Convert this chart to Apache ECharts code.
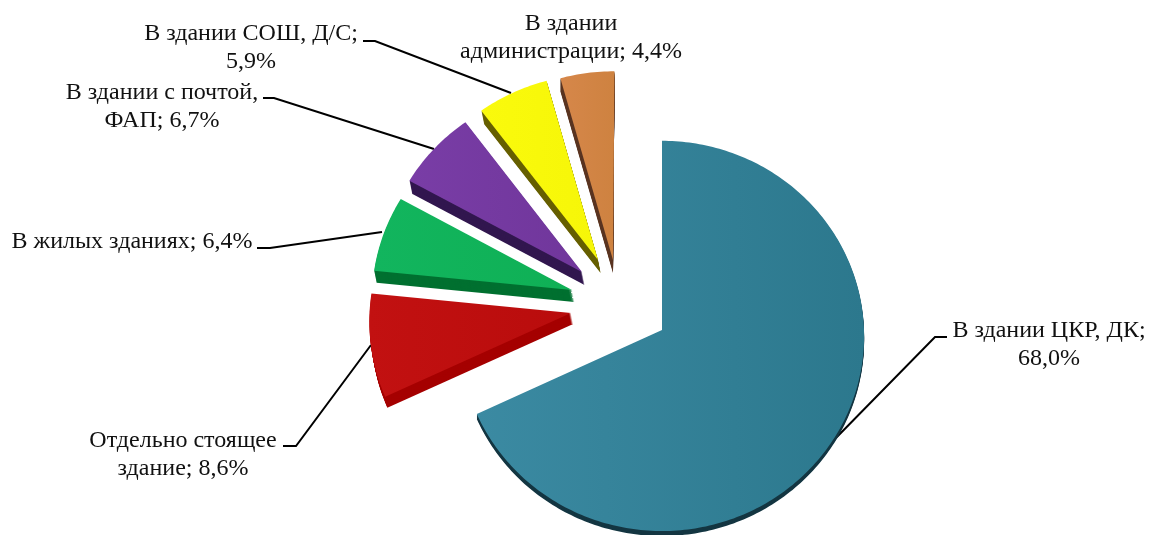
<!DOCTYPE html>
<html>
<head>
<meta charset="utf-8">
<style>
  html, body { margin: 0; padding: 0; background: #fff; }
  #chart { width: 1149px; height: 535px; }
</style>
<script src="https://cdn.jsdelivr.net/npm/echarts@6/dist/echarts.min.js"></script>
</head>
<body>
<div id="chart"></div>
<script>
const categories = ['В здании ЦКР, ДК', 'Отдельно стоящее\nздание', 'В жилых зданиях', 'В здании с почтой,\nФАП', 'В здании СОШ, Д/С', 'В здании\nадминистрации'];
const values = [68.0, 8.6, 6.4, 6.7, 5.9, 4.4];
const valueSeparators = ['\n', ' ', ' ', ' ', '\n', ' '];
const topColors = [['#3B8AA2', '#2C788D'], ['#C21111', '#B90C0C'], ['#12B55E', '#0FB055'], ['#793DA6', '#70369B'], ['#FAFA0C', '#F6F608'], ['#D6874A', '#CE8240']];
const sideColors = ['#143642', '#A50000', '#007030', '#32174F', '#665F00', '#5A3520'];
// where each slice's tip lands on screen (explode offsets)
const tips = [[662, 330], [571, 313], [572, 290], [582, 272], [598, 260], [613, 260]];
const radii = [202, 202, 201, 203, 203, 206];
const depths = [5, 11, 12, 13, 13, 13];
const sideShifts = [0, 0.2, 0.2, 0.2, 0.2, 0];
const labelPositions = [[1049, 345], [183, 455], [132, 242], [162, 107], [251, 48], [571, 38]];
const leaderLines = [
  [[947, 337], [935, 337], [830, 444]],
  [[283, 446], [296, 446], [371, 345]],
  [[257, 248], [270, 248], [382, 232]],
  [[263, 98], [274, 98], [434, 149]],
  [[363, 41], [375, 41], [511, 93]],
  null
];

const ORIGIN = [662, 330];
const SQUASH = 0.965;
const PERSP = 0.00015;

// pie lies on a tilted plane: the near side is drawn a bit bigger than the far side
const project = (x, y) => {
  const w = 1 / (1 - PERSP * y);
  return [ORIGIN[0] + x * w, ORIGIN[1] + y * SQUASH * w];
};
const unproject = (sx, sy) => {
  const Y = sy - ORIGIN[1];
  const y = Y / (SQUASH + PERSP * Y);
  return [(sx - ORIGIN[0]) * (1 - PERSP * y), y];
};

const total = values.reduce((a, b) => a + b, 0);

const slicePoints = (index, value) => {
  const before = values.slice(0, index).reduce((a, b) => a + b, 0);
  const start = before / total * 360;
  const sweep = value / total * 360;
  const apex = unproject(tips[index][0], tips[index][1]);
  const points = [tips[index]];
  const steps = Math.ceil(sweep);
  for (let i = 0; i <= steps; i++) {
    const t = (start + sweep * i / steps) * Math.PI / 180;
    points.push(project(apex[0] + radii[index] * Math.sin(t), apex[1] - radii[index] * Math.cos(t)));
  }
  return points;
};

const renderItem = (params, api) => {
  const i = params.dataIndex;
  const points = slicePoints(i, api.value(1));
  const children = [];
  if (leaderLines[i]) {
    children.push({
      type: 'polyline',
      shape: { points: leaderLines[i] },
      style: { stroke: '#000', lineWidth: 2, fill: null }
    });
  }
  // side wall: stacked copies below the top face
  for (let k = depths[i]; k > 0; k--) {
    children.push({
      type: 'polygon',
      x: k * sideShifts[i],
      y: k,
      shape: { points },
      style: { fill: sideColors[i] }
    });
  }
  children.push({
    type: 'polygon',
    shape: { points },
    style: {
      fill: {
        type: 'linear', x: 0, y: 0, x2: 1, y2: 0,
        colorStops: [{ offset: 0, color: topColors[i][0] }, { offset: 1, color: topColors[i][1] }]
      }
    }
  });
  children.push({
    type: 'text',
    style: {
      text: categories[i] + ';' + valueSeparators[i] + api.value(1).toFixed(1).replace('.', ',') + '%',
      x: labelPositions[i][0],
      y: labelPositions[i][1],
      align: 'center',
      verticalAlign: 'middle',
      fontFamily: '"Liberation Serif"',
      fontSize: 24,
      lineHeight: 28,
      fill: '#111'
    }
  });
  return { type: 'group', children };
};

const myChart = echarts.init(document.getElementById('chart'), null, { renderer: 'canvas' });
myChart.setOption({
  animation: false,
  backgroundColor: '#fff',
  series: [{
    type: 'custom',
    coordinateSystem: 'none',
    silent: true,
    renderItem,
    data: values.map((v, i) => [i, v])
  }]
});
</script>
</body>
</html>
